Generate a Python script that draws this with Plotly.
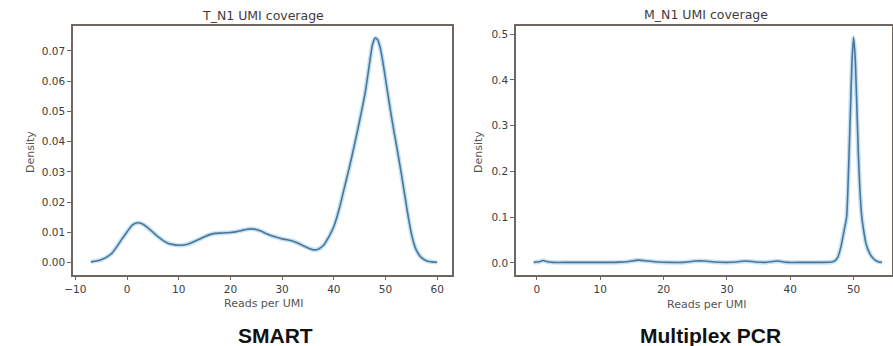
import plotly.graph_objects as go

# ---- Data ----
t_x = [-7, -5, -3, -1, 0, 1, 2, 3, 4, 5, 6, 7, 8, 9, 10, 11, 12, 13, 14, 15, 16, 17, 18,
       19, 20, 21, 22, 23, 24, 25, 26, 27, 28, 29, 30, 31, 32, 33, 34, 35, 36, 37, 38, 39,
       40, 41, 42, 43, 44, 45, 46, 46.5, 47, 47.5, 48, 48.5, 49, 49.5, 50, 50.5, 51,
       51.5, 52, 52.5, 53, 53.5, 54, 54.5, 55, 55.5, 56, 57, 58, 59, 60]
t_y = [0.0003, 0.001, 0.003, 0.0078, 0.0102, 0.0124, 0.0132, 0.0128, 0.0116, 0.0101,
       0.0086, 0.0073, 0.0064, 0.0060, 0.0058, 0.0059, 0.0063, 0.0070, 0.0078, 0.0086,
       0.0093, 0.0097, 0.0098, 0.0099, 0.0100, 0.0102, 0.0106, 0.0110, 0.0112, 0.0110,
       0.0104, 0.0096, 0.0089, 0.0084, 0.0079, 0.0076, 0.0072, 0.0065, 0.0057, 0.0049,
       0.0043, 0.0045, 0.0058, 0.0085, 0.0120, 0.0175, 0.0245, 0.0315, 0.0390, 0.0470,
       0.0555, 0.0610, 0.0670, 0.0722, 0.0742, 0.0736, 0.0708, 0.0662, 0.0607, 0.0552,
       0.0498, 0.0447, 0.0400, 0.0350, 0.0300, 0.0247, 0.0193, 0.0142, 0.0097, 0.0063,
       0.0040, 0.0016, 0.0006, 0.0003, 0.0002]

m_x = [-0.5, 0.5, 1, 1.5, 2.5, 5, 8, 11, 13, 14.5, 16, 17.5, 19, 21, 23, 25, 26.5, 28,
       30, 31.5, 33, 34.5, 36, 38, 39.5, 42, 45, 46.5, 47, 47.5, 48, 48.5, 48.9, 49.2,
       49.5, 49.75, 50, 50.25, 50.5, 50.75, 51, 51.3, 51.6, 52, 52.5, 53, 53.5, 54, 54.5]
m_y = [0.001, 0.003, 0.005, 0.003, 0.001, 0.001, 0.001, 0.001, 0.0015, 0.003, 0.006,
       0.004, 0.002, 0.001, 0.001, 0.004, 0.004, 0.002, 0.001, 0.002, 0.004, 0.002, 0.001,
       0.004, 0.001, 0.001, 0.001, 0.002, 0.004, 0.012, 0.035, 0.07, 0.10, 0.20, 0.33,
       0.44, 0.493, 0.45, 0.35, 0.24, 0.16, 0.10, 0.07, 0.04, 0.022, 0.011, 0.005, 0.002,
       0.001]

left_title = "T_N1 UMI coverage"
right_title = "M_N1 UMI coverage"
x_label = "Reads per UMI"
y_label = "Density"
left_caption = "SMART"
right_caption = "Multiplex PCR"

left_xticks = [-10, 0, 10, 20, 30, 40, 50, 60]
left_yticks = [0.00, 0.01, 0.02, 0.03, 0.04, 0.05, 0.06, 0.07]
right_xticks = [0, 10, 20, 30, 40, 50]
right_yticks = [0.0, 0.1, 0.2, 0.3, 0.4, 0.5]

# ---- Layout geometry ----
W, H = 893, 346
FRAME = "#6e6661"
TXT = "#3c3c3c"
FONT = "DejaVu Sans"


def px(x):
    return x / W


def py(y):
    return 1 - y / H


fig = go.Figure()

for (xs, ys, xa, ya) in [(t_x, t_y, "x", "y"), (m_x, m_y, "x2", "y2")]:
    fig.add_trace(go.Scatter(x=xs, y=ys, mode="lines", xaxis=xa, yaxis=ya,
                             line=dict(color="rgba(150,200,235,0.55)", width=4.5, shape="spline", smoothing=0.6),
                             hoverinfo="skip", showlegend=False))
    fig.add_trace(go.Scatter(x=xs, y=ys, mode="lines", xaxis=xa, yaxis=ya,
                             line=dict(color="#4a7798", width=1.6, shape="spline", smoothing=0.6),
                             showlegend=False))

axis_common = dict(showline=True, mirror=True, linecolor=FRAME, linewidth=1.5,
                   ticks="outside", ticklen=4, tickcolor=FRAME, tickwidth=1.2,
                   showgrid=False, zeroline=False, automargin=False,
                   tickfont=dict(family=FONT, size=10.5, color=TXT))

ydom = [py(274.5), py(26)]

fig.update_layout(
    width=W, height=H,
    margin=dict(l=0, r=0, t=0, b=0, pad=0, autoexpand=False),
    paper_bgcolor="white", plot_bgcolor="white",
    xaxis=dict(domain=[px(73), px(452)], range=[-10.45, 62.86], anchor="y",
               tickvals=left_xticks, ticktext=["\u221210" if v < 0 else str(v) for v in left_xticks],
               **axis_common),
    yaxis=dict(domain=ydom, range=[-0.00387, 0.0782], anchor="x",
               tickvals=left_yticks, ticktext=[f"{v:.2f}" for v in left_yticks],
               **axis_common),
    xaxis2=dict(domain=[px(516), px(892.2)], range=[-3.3, 56.1], anchor="y2",
                tickvals=right_xticks, ticktext=[str(v) for v in right_xticks],
                **axis_common),
    yaxis2=dict(domain=ydom, range=[-0.0255, 0.518], anchor="x2",
                tickvals=right_yticks, ticktext=[f"{v:.1f}" for v in right_yticks],
                **axis_common),
)


def add_text(text, x, y, size, color, bold=False, angle=0, family=FONT):
    fig.add_annotation(text=f"<b>{text}</b>" if bold else text,
                       x=px(x), y=py(y), xref="paper", yref="paper",
                       showarrow=False, xanchor="center", yanchor="middle",
                       textangle=angle, font=dict(family=family, size=size, color=color))


add_text(left_title, 263, 16, 12.5, TXT)
add_text(right_title, 706, 15, 12.5, TXT)
add_text(x_label, 263, 303, 11, "#555555")
add_text(x_label, 706, 304, 11, "#555555")
add_text(y_label, 30, 152, 11, "#555555", angle=-90)
add_text(y_label, 478, 152, 11, "#555555", angle=-90)
add_text(left_caption, 275, 335, 21, "#111111", bold=True, family="Liberation Sans")
add_text(right_caption, 710, 335, 21, "#111111", bold=True, family="Liberation Sans")

# remove the default 8px page margin so the figure fills the window exactly
fig.write_html("out.html",
               config={"displayModeBar": False},
               post_script="document.body.style.margin='0';document.body.style.overflow='hidden';")
